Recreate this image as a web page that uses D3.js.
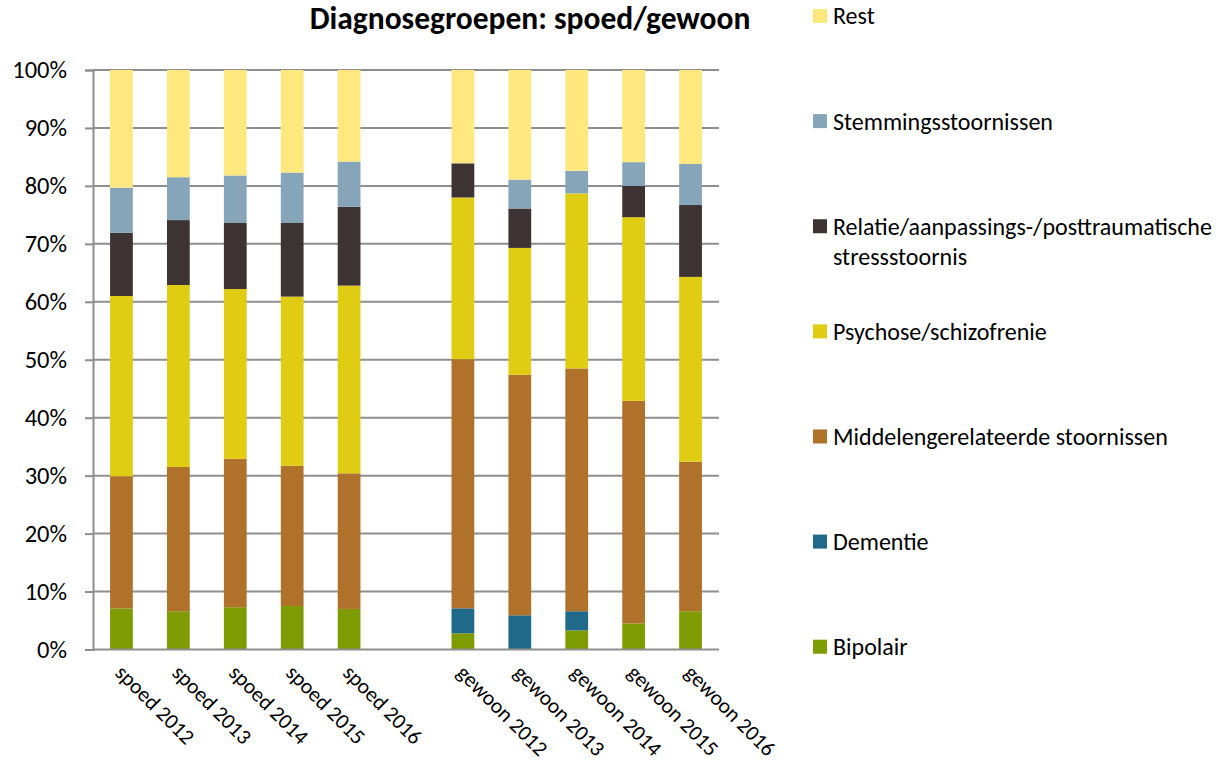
<!DOCTYPE html>
<html><head><meta charset="utf-8">
<script src="https://cdn.jsdelivr.net/npm/d3@7"></script>
<style>
body{margin:0;background:#fff}
svg{display:block}
text{font-family:Carlito, Calibri, Lato, sans-serif; fill:#000}
</style>
</head><body>
<svg id="chart" width="1224" height="780"></svg>
<script>
// ---- data ----
const categories = ["spoed 2012","spoed 2013","spoed 2014","spoed 2015","spoed 2016","",
                    "gewoon 2012","gewoon 2013","gewoon 2014","gewoon 2015","gewoon 2016"];
const seriesNames = ["Bipolair","Dementie","Middelengerelateerde stoornissen","Psychose/schizofrenie",
                     "Relatie/aanpassings-/posttraumatische stressstoornis","Stemmingsstoornissen","Rest"];
const bipolair   = [7.1, 6.6, 7.3, 7.5, 7.0, null, 2.8, 0.0, 3.3, 4.5, 6.6];
const dementie   = [0.0, 0.0, 0.0, 0.0, 0.0, null, 4.3, 5.9, 3.3, 0.0, 0.0];
const middelen   = [22.8,24.9,25.6,24.2,23.4,null,43.0,41.5,41.9,38.4,25.8];
const psychose   = [31.1,31.4,29.3,29.2,32.4,null,27.9,21.9,30.2,31.7,31.9];
const relatie    = [10.9,11.2,11.4,12.7,13.6,null, 5.9, 6.8, 0.0, 5.4,12.4];
const stemming   = [7.8, 7.4, 8.2, 8.7, 7.8, null, 0.0, 5.0, 3.9, 4.1, 7.1];
const rest       = [20.3,18.5,18.2,17.7,15.8,null,16.1,18.9,17.4,15.9,16.2];
const seriesColors = ["#7f9b02","#1f6a8a","#b0722b","#e0cc13","#3c3332","#87a5b9","#ffe97f"];
const yTicks = [0,10,20,30,40,50,60,70,80,90,100];
const titleText = "Diagnosegroepen: spoed/gewoon";

// ---- build table ----
const seriesValues = [bipolair, dementie, middelen, psychose, relatie, stemming, rest];
const table = categories.map((c,i) => {
  const row = {cat: c, idx: i};
  seriesNames.forEach((s,k) => row[s] = seriesValues[k][i] || 0);
  return row;
});
const stacked = d3.stack().keys(seriesNames)(table);

const svg = d3.select("#chart");
const plot = {left: 93, right: 719, top: 70, bottom: 649.5};

const x = d3.scaleBand().domain(categories.map((c,i)=>i))
  .range([plot.left, plot.right]).paddingInner(0.6).paddingOuter(0.3);
const y = d3.scaleLinear().domain([0,100]).range([plot.bottom, plot.top]);
const color = d3.scaleOrdinal().domain(seriesNames).range(seriesColors);

// gridlines
svg.append("g").selectAll("line").data(yTicks.filter(t=>t>0)).join("line")
  .attr("x1", plot.left).attr("x2", plot.right)
  .attr("y1", d=>y(d)).attr("y2", d=>y(d))
  .attr("stroke", "#8e8e8e").attr("stroke-width", 2);

// y axis
const yAxis = svg.append("g").attr("transform", `translate(${plot.left},0)`)
  .call(d3.axisLeft(y).tickValues(yTicks).tickFormat(d=>d+"%").tickSize(8).tickPadding(18));
yAxis.select(".domain").attr("stroke","#8e8e8e").attr("stroke-width",2);
yAxis.selectAll(".tick line").attr("stroke","#8e8e8e").attr("stroke-width",2);
yAxis.selectAll(".tick text").style("font-family","Carlito, Calibri, Lato, sans-serif")
  .style("font-size","24.5px").attr("fill","#000");

// bars
svg.append("g").selectAll("g").data(stacked).join("g")
  .attr("fill", d=>color(d.key))
  .selectAll("rect").data(d=>d.filter(p=>p[1]-p[0]>0)).join("rect")
  .attr("x", d=>x(d.data.idx))
  .attr("width", x.bandwidth())
  .attr("y", d=>y(d[1]))
  .attr("height", d=>y(d[0])-y(d[1]));

// x axis line
svg.append("line").attr("x1", plot.left).attr("x2", plot.right)
  .attr("y1", plot.bottom).attr("y2", plot.bottom)
  .attr("stroke","#8e8e8e").attr("stroke-width",2);

// x labels
svg.append("g").selectAll("text").data(categories.map((c,i)=>({c,i})).filter(d=>d.c!=="")).join("text")
  .attr("transform", d=>`translate(${x(d.i)+x.bandwidth()/2+4},${plot.bottom+13}) rotate(45)`)
  .attr("dy","0.75em")
  .style("font-size","21.5px")
  .text(d=>d.c);

// title
svg.append("text").attr("x", 530).attr("y", 29).attr("text-anchor","middle")
  .style("font-size","31.5px").style("font-weight","bold").text(titleText);

// legend
const legendOrder = seriesNames.slice().reverse();
const ly = d3.scalePoint().domain(legendOrder).range([16, 646.7]);
const lg = svg.append("g").selectAll("g").data(legendOrder).join("g")
  .attr("transform", d=>`translate(813,${ly(d)})`);
lg.append("rect").attr("x",0).attr("y",-7).attr("width",14).attr("height",14).attr("fill", d=>color(d));
lg.append("text").attr("x",20).style("font-size","24px")
  .each(function(d){
    const parts = d.startsWith("Relatie") ? ["Relatie/aanpassings-/posttraumatische","stressstoornis"] : [d];
    d3.select(this).selectAll("tspan").data(parts).join("tspan")
      .attr("x",20).attr("dy",(p,i)=> i===0 ? "0.35em" : "1.27em").text(p=>p);
  });
</script>
</body></html>
